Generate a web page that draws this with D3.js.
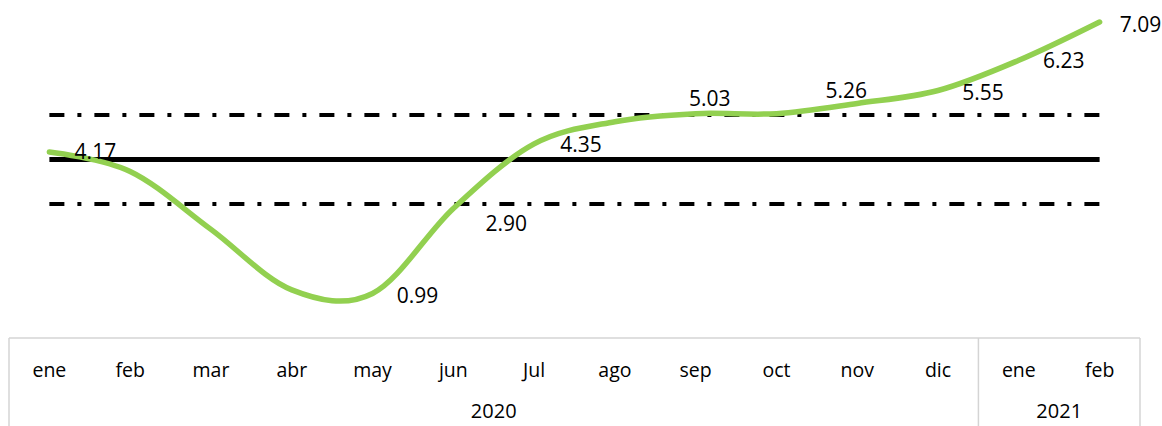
<!DOCTYPE html>
<html><head><meta charset="utf-8">
<script src="https://cdn.jsdelivr.net/npm/d3@7"></script>
<style>html,body{margin:0;padding:0;background:#fff;}svg{display:block;}</style>
</head><body>
<svg id="chart" width="1162" height="426"></svg>
<script>
const months = ["ene","feb","mar","abr","may","jun","Jul","ago","sep","oct","nov","dic","ene","feb"];
const years = ["2020","2020","2020","2020","2020","2020","2020","2020","2020","2020","2020","2020","2021","2021"];
const inflation = [4.17,3.73,2.43,1.07,0.99,2.90,4.35,4.85,5.03,5.03,5.26,5.55,6.23,7.09];
const showLabel = [true,false,false,false,true,true,true,false,true,false,true,true,true,true];
// label placement offsets (px, relative to point) – styling only
const labelDx = [46,0,0,0,45,53,47,0,14,0,-11,45,45,41];
const labelDy = [0,0,0,0,2,15,1,0,-15,0,-13,1.5,0,2];
const targetValue = 4;
const bandUpper = 5;
const bandLower = 3;

const svg = d3.select("#chart");
const font = "'Open Sans', 'DejaVu Sans', sans-serif";
const idx = months.map((m,i)=>i);
const boxL = 9, boxR = 1140, boxTop = 338;
const x = d3.scalePoint().domain(idx).range([boxL, boxR]).padding(0.5);
const y = d3.scaleLinear().domain([0, 8]).range([337.5, -18.5]);

const x0 = x(0), x1 = x(idx.length-1);
// reference lines
[bandUpper, bandLower].forEach(v => {
  svg.append("line").attr("x1", x0).attr("x2", x1).attr("y1", y(v)).attr("y2", y(v))
    .attr("stroke", "#000").attr("stroke-width", 4)
    .attr("stroke-dasharray", "15,13,4,13");
});
svg.append("line").attr("x1", x0).attr("x2", x1).attr("y1", y(targetValue)).attr("y2", y(targetValue))
  .attr("stroke", "#000").attr("stroke-width", 5);

// series line
const line = d3.line().x((d,i)=>x(i)).y(d=>y(d)).curve(d3.curveCardinal.tension(0));
svg.append("path").datum(inflation).attr("d", line)
  .attr("fill","none").attr("stroke","#92d050").attr("stroke-width",5.5)
  .attr("stroke-linecap","round").attr("stroke-linejoin","round");

// data labels
inflation.forEach((v,i)=>{
  if(!showLabel[i]) return;
  svg.append("text").attr("x", x(i) + labelDx[i]).attr("y", y(v) + labelDy[i]).attr("dy","0.36em")
    .attr("text-anchor", "middle").attr("font-family", font).attr("font-size", 21)
    .attr("fill","#000").text(v.toFixed(2));
});

// category axis box
const axisG = svg.append("g");
const grid = "#d4d4d4";
axisG.append("line").attr("x1", boxL).attr("x2", boxR).attr("y1", boxTop).attr("y2", boxTop).attr("stroke", grid).attr("stroke-width",1.5);
const yearGroups = d3.groups(idx, i => years[i]);
const bw = x.step();
const edges = [boxL];
yearGroups.forEach(([yr, ids]) => edges.push(x(ids[ids.length-1]) + bw/2));
edges.forEach(e => {
  axisG.append("line").attr("x1", e).attr("x2", e).attr("y1", boxTop).attr("y2", 430).attr("stroke", grid).attr("stroke-width",1.5);
});
idx.forEach(i => {
  axisG.append("text").attr("x", x(i)).attr("y", 370).attr("dy","0.35em").attr("text-anchor","middle")
    .attr("font-family", font).attr("font-size", 19.5).attr("fill","#000").text(months[i]);
});
yearGroups.forEach(([yr, ids]) => {
  const cx = (x(ids[0]) - bw/2 + x(ids[ids.length-1]) + bw/2)/2;
  axisG.append("text").attr("x", cx).attr("y", 411).attr("dy","0.36em").attr("text-anchor","middle")
    .attr("font-family", font).attr("font-size", 20).attr("fill","#000").text(yr);
});
</script>
</body></html>
